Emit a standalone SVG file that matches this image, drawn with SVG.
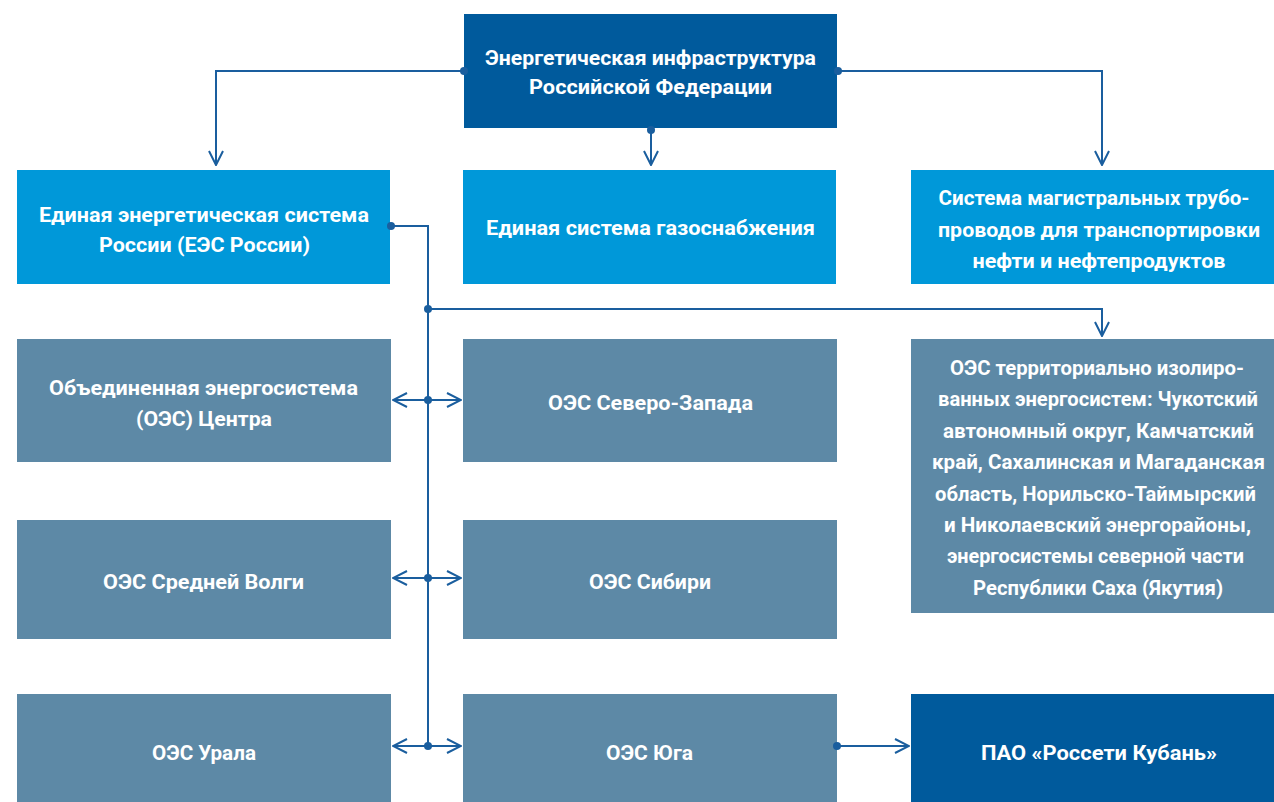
<svg xmlns="http://www.w3.org/2000/svg" width="1274" height="802" viewBox="0 0 1274 802">
<defs>
<style>
.t{font-family:Roboto,"Liberation Sans",sans-serif;font-weight:bold;font-size:21px;fill:#fff;text-anchor:middle}
.dark{fill:#005a9c}
.blue{fill:#0098d9}
.grey{fill:#5d89a6}
.ln{stroke:#1a5e9e;stroke-width:2;fill:none}
.dot{fill:#1a5e9e}
</style>
<marker id="arr" viewBox="0 0 16 16" refX="15" refY="8" markerWidth="16" markerHeight="16" markerUnits="userSpaceOnUse" orient="auto-start-reverse">
<path d="M1 1 L15 8 L1 15" fill="none" stroke="#1a5e9e" stroke-width="2"/>
</marker>
</defs>
<rect width="1274" height="802" fill="#fff"/>
<g id="n-top"><rect class="dark" x="464" y="14" width="373" height="114"/>
<text class="t" x="650.5" y="65" textLength="331" lengthAdjust="spacingAndGlyphs">Энергетическая инфраструктура</text>
<text class="t" x="650.5" y="94" textLength="243" lengthAdjust="spacingAndGlyphs">Российской Федерации</text></g>
<g id="n-ees"><rect class="blue" x="17" y="170" width="373" height="114"/>
<text class="t" x="204" y="222" textLength="330" lengthAdjust="spacingAndGlyphs">Единая энергетическая система</text>
<text class="t" x="204.5" y="252" textLength="211" lengthAdjust="spacingAndGlyphs">России (ЕЭС России)</text></g>
<g id="n-gas"><rect class="blue" x="463" y="170" width="373" height="114"/>
<text class="t" x="650.5" y="235" textLength="329" lengthAdjust="spacingAndGlyphs">Единая система газоснабжения</text></g>
<g id="n-oil"><rect class="blue" x="911" y="170" width="363" height="114"/>
<text class="t" x="1094" y="205" textLength="311" lengthAdjust="spacingAndGlyphs">Система магистральных трубо-</text>
<text class="t" x="1099" y="236.5" textLength="322" lengthAdjust="spacingAndGlyphs">проводов для транспортировки</text>
<text class="t" x="1099" y="268" textLength="253" lengthAdjust="spacingAndGlyphs">нефти и нефтепродуктов</text></g>
<g id="n-center"><rect class="grey" x="17" y="339" width="374" height="123"/>
<text class="t" x="203.5" y="395" textLength="309" lengthAdjust="spacingAndGlyphs">Объединенная энергосистема</text>
<text class="t" x="204" y="426" textLength="136" lengthAdjust="spacingAndGlyphs">(ОЭС) Центра</text></g>
<g id="n-nw"><rect class="grey" x="463" y="339" width="374" height="123"/>
<text class="t" x="650.5" y="410" textLength="205" lengthAdjust="spacingAndGlyphs">ОЭС Северо-Запада</text></g>
<g id="n-volga"><rect class="grey" x="17" y="520" width="374" height="119"/>
<text class="t" x="203.5" y="589" textLength="201" lengthAdjust="spacingAndGlyphs">ОЭС Средней Волги</text></g>
<g id="n-sib"><rect class="grey" x="463" y="520" width="374" height="119"/>
<text class="t" x="650" y="589" textLength="122" lengthAdjust="spacingAndGlyphs">ОЭС Сибири</text></g>
<g id="n-ural"><rect class="grey" x="17" y="694" width="374" height="108"/>
<text class="t" x="204" y="760" textLength="104" lengthAdjust="spacingAndGlyphs">ОЭС Урала</text></g>
<g id="n-south"><rect class="grey" x="463" y="694" width="374" height="108"/>
<text class="t" x="649.5" y="760" textLength="87" lengthAdjust="spacingAndGlyphs">ОЭС Юга</text></g>
<g id="n-iso"><rect class="grey" x="911" y="339" width="363" height="274"/>
<text class="t" x="1097" y="375" textLength="294" lengthAdjust="spacingAndGlyphs">ОЭС территориально изолиро-</text>
<text class="t" x="1098" y="406.4" textLength="320" lengthAdjust="spacingAndGlyphs">ванных энергосистем: Чукотский</text>
<text class="t" x="1098.5" y="437.8" textLength="311" lengthAdjust="spacingAndGlyphs">автономный округ, Камчатский</text>
<text class="t" x="1098.5" y="469.2" textLength="333" lengthAdjust="spacingAndGlyphs">край, Сахалинская и Магаданская</text>
<text class="t" x="1095.5" y="500.6" textLength="321" lengthAdjust="spacingAndGlyphs">область, Норильско-Таймырский</text>
<text class="t" x="1097.5" y="532" textLength="307" lengthAdjust="spacingAndGlyphs">и Николаевский энергорайоны,</text>
<text class="t" x="1095.5" y="563.4" textLength="297" lengthAdjust="spacingAndGlyphs">энергосистемы северной части</text>
<text class="t" x="1098" y="594.8" textLength="250" lengthAdjust="spacingAndGlyphs">Республики Саха (Якутия)</text>
</g>
<g id="n-kuban"><rect class="dark" x="911" y="694" width="363" height="108"/>
<text class="t" x="1099" y="760" textLength="236" lengthAdjust="spacingAndGlyphs">ПАО «Россети Кубань»</text></g>
<g id="connectors">
<path class="ln" d="M464 71 H216 V165" marker-end="url(#arr)"/>
<path class="ln" d="M838 71 H1102 V165" marker-end="url(#arr)"/>
<path class="ln" d="M651 130 V165" marker-end="url(#arr)"/>
<path class="ln" d="M391 226 H428 V746"/>
<path class="ln" d="M428 309 H1102 V336" marker-end="url(#arr)"/>
<path class="ln" d="M393 400 H461" marker-start="url(#arr)" marker-end="url(#arr)"/>
<path class="ln" d="M393 578 H461" marker-start="url(#arr)" marker-end="url(#arr)"/>
<path class="ln" d="M393 746 H461" marker-start="url(#arr)" marker-end="url(#arr)"/>
<path class="ln" d="M837 746 H909" marker-end="url(#arr)"/>
<circle class="dot" cx="464" cy="71" r="4"/>
<circle class="dot" cx="838" cy="71" r="4"/>
<circle class="dot" cx="651" cy="130" r="4"/>
<circle class="dot" cx="391" cy="226" r="4"/>
<circle class="dot" cx="428" cy="309" r="4"/>
<circle class="dot" cx="428" cy="400" r="4"/>
<circle class="dot" cx="428" cy="578" r="4"/>
<circle class="dot" cx="428" cy="746" r="4"/>
<circle class="dot" cx="837" cy="746" r="4"/>
</g>
</svg>
